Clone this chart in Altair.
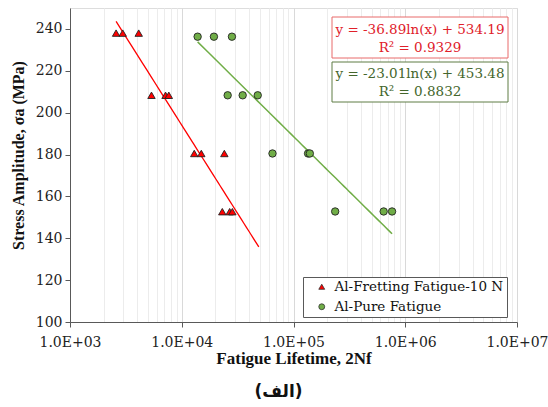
import altair as alt
import pandas as pd

# ---- data ----
fret_name = "Al-Fretting Fatigue-10 N"
pure_name = "Al-Pure Fatigue"

fret_life = [2585, 2965, 4120, 5360, 7160, 7660, 12940, 14960, 24050, 23060, 26840, 28380]
fret_stress = [238, 238, 238, 208.3, 208.3, 208.3, 180.5, 180.5, 180.5, 152.7, 152.7, 152.7]

pure_life = [13870, 19410, 28130, 25760, 35090, 47850, 64860, 135000, 140000, 236000, 641000, 762000]
pure_stress = [236.3, 236.3, 236.3, 208.3, 208.3, 208.3, 180.5, 180.5, 180.5, 152.8, 152.8, 152.8]

fret_trend_extent = [2585, 48900]

eq_fret = ["y = -36.89ln(x) + 534.19", "R² = 0.9329"]
eq_pure = ["y = -23.01ln(x) + 453.48", "R² = 0.8832"]

x_major = [1000, 10000, 100000, 1000000, 10000000]
x_labels = ["1.0E+03", "1.0E+04", "1.0E+05", "1.0E+06", "1.0E+07"]
y_ticks = [100, 120, 140, 160, 180, 200, 220, 240]

# ---- build tables ----
df = pd.DataFrame({
    "life": fret_life + pure_life,
    "stress": fret_stress + pure_stress,
    "series": [fret_name] * len(fret_life) + [pure_name] * len(pure_life),
})
df_f = df[df.series == fret_name]
df_p = df[df.series == pure_name]

x_grid_values = [k * m for m in x_major[:-1] for k in range(1, 10)] + [x_major[-1]]
major_test = "indexof([" + ",".join(str(v) for v in x_major) + "], datum.value) >= 0"
label_expr = "".join(f"datum.value == {v} ? '{t}' : " for v, t in zip(x_major, x_labels)) + "''"

RED = "#ff0000"
GREEN = "#70ad47"
SERIF = "DejaVu Serif"
TSERIF = "Liberation Serif"

xscale = alt.Scale(type="log", domain=[1000, 10000000])
yscale = alt.Scale(domain=[100, 250])

x_enc = alt.X("life:Q", scale=xscale, axis=alt.Axis(
    values=x_grid_values, labelExpr=label_expr, title="Fatigue Lifetime, 2Nf",
    grid=True,
    gridColor={"condition": {"test": major_test, "value": "#d9d9d9"}, "value": "#ececec"},
    tickColor={"condition": {"test": major_test, "value": "#595959"}, "value": "transparent"},
    tickSize=5, labelPadding=8, labelFont=SERIF, labelFontSize=14, labelColor="#222",
    labelFlush=False, labelOverlap=False,
    titleFont=TSERIF, titleFontSize=17, titleFontWeight="bold", titleColor="#111",
    titleX=223.5, titleY=36, titleBaseline="middle", titleAlign="center",
    domainColor="#595959"))
y_enc = alt.Y("stress:Q", scale=yscale, axis=alt.Axis(
    values=y_ticks, grid=False, title="Stress Amplitude, σa (MPa)",
    tickSize=5, tickColor="#595959", labelPadding=3, labelFont=SERIF, labelFontSize=14,
    labelColor="#222",
    titleFont=TSERIF, titleFontSize=16, titleFontWeight="bold", titleColor="#111",
    titleX=-52, titleY=147, titleBaseline="middle", titleAlign="center", titleAngle=270,
    domainColor="#595959"))

line_f = alt.Chart(df_f).transform_regression(
    "life", "stress", method="log", extent=fret_trend_extent
).mark_line(color=RED, strokeWidth=1.3).encode(x=x_enc, y=y_enc)

line_p = alt.Chart(df_p).transform_regression(
    "life", "stress", method="log"
).mark_line(color=GREEN, strokeWidth=1.5).encode(x=x_enc, y=y_enc)

points = alt.Chart(df).mark_point(filled=True, size=55, stroke="#222", strokeWidth=0.9, opacity=1).encode(
    x=x_enc, y=y_enc,
    color=alt.Color("series:N", scale=alt.Scale(domain=[fret_name, pure_name], range=[RED, GREEN]),
                    legend=alt.Legend(orient="none", legendX=233, legendY=269, title=None,
                                      fillColor="white", strokeColor="#595959", padding=3,
                                      symbolOffset=9, labelOffset=6, rowPadding=5, labelLimit=0,
                                      labelFont=SERIF, labelFontSize=13.5, labelColor="#111",
                                      symbolSize=35, symbolStrokeColor="#333", symbolStrokeWidth=0.8)),
    shape=alt.Shape("series:N", scale=alt.Scale(domain=[fret_name, pure_name], range=["triangle-up", "circle"]),
                    legend=None),
)

def box(x1, x2, y1, y2, stroke):
    return alt.Chart(df.head(1)).mark_rect(fill="white", stroke=stroke, strokeWidth=1).encode(
        x=alt.value(x1), x2=alt.value(x2), y=alt.value(y1), y2=alt.value(y2))

def txt(t, x, y, color):
    return alt.Chart(df.head(1)).mark_text(text=t, font=SERIF, fontSize=13.5, color=color,
                                           align="center", baseline="middle").encode(
        x=alt.value(x), y=alt.value(y))

annot = [
    box(262, 438, 9, 50, "#e86a6a"),
    txt(eq_fret[0], 350, 21.5, "#e0202a"),
    txt(eq_fret[1], 350, 39.5, "#e0202a"),
    box(262, 438, 54, 94, "#5e7d45"),
    txt(eq_pure[0], 350, 66, "#44662c"),
    txt(eq_pure[1], 350, 84, "#44662c"),
]

chart = alt.layer(line_f, line_p, points, *annot).properties(
    width=447, height=314,
    autosize=alt.AutoSizeParams(type="none"),
    padding={"left": 70, "top": 8, "right": 31, "bottom": 85},
    title=alt.TitleParams("(الف)", orient="bottom", font="DejaVu Sans", fontSize=17,
                          fontWeight="bold", color="#111", dx=-15, offset=18),
).configure_view(stroke="#595959", strokeWidth=1).configure(background="white")

chart.save("out.html", embed_options={"renderer": "svg", "actions": False})
